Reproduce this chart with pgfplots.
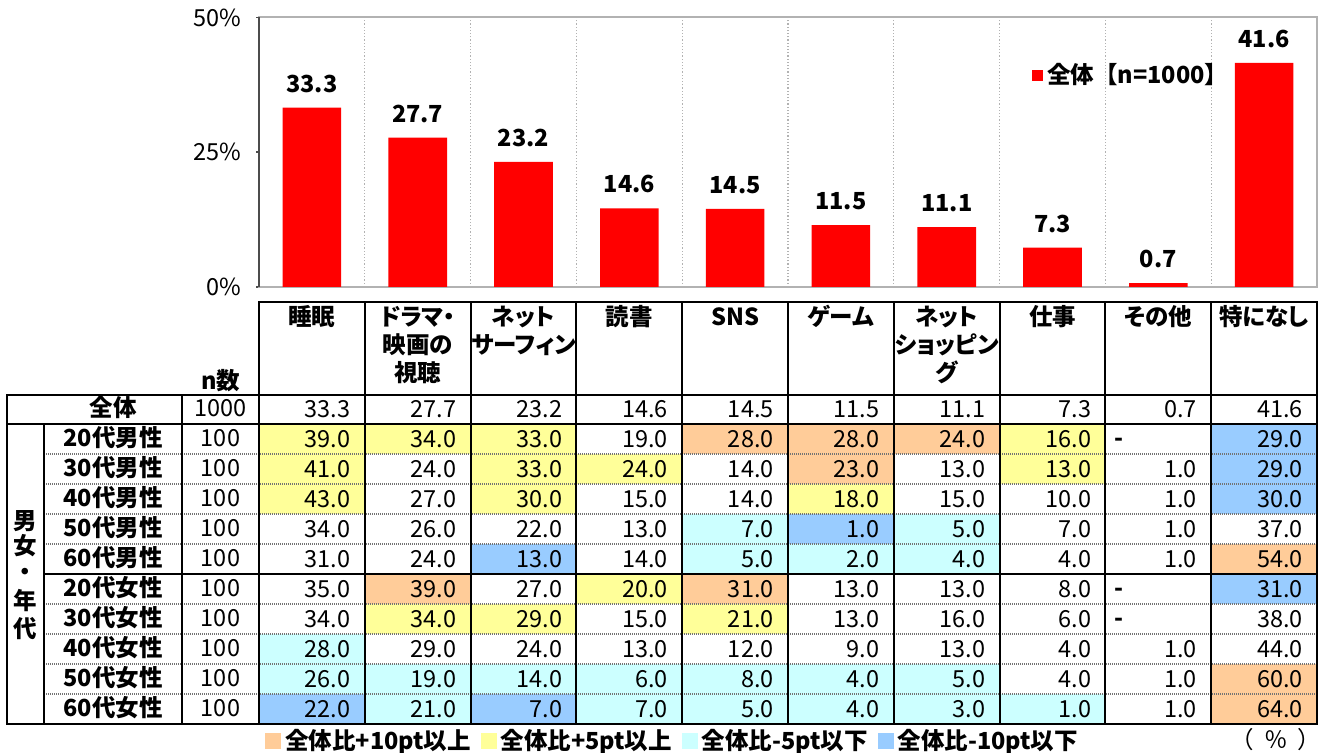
\documentclass[border=0pt]{standalone}
\usepackage{fontspec}
\setmainfont{Noto Sans CJK JP}
\usepackage{pgfplots}
\pgfplotsset{compat=1.18}
\definecolor{cO}{RGB}{255,204,153}
\definecolor{cY}{RGB}{255,255,153}
\definecolor{cC}{RGB}{204,255,255}
\definecolor{cB}{RGB}{153,204,255}
\definecolor{barred}{RGB}{255,0,0}
\pgfdeclareplotmark{cell}{\pgfpathrectangle{\pgfpoint{-26.45pt}{-7.5pt}}{\pgfpoint{52.9pt}{15pt}}\pgfusepathqfill}
\newcommand\fs{\fontsize{11.75}{14}\selectfont}
\tikzset{lab/.style={text height=0.88em, text depth=0.12em, inner sep=0pt, font=\fs\bfseries},
 labr/.style={text height=0.88em, text depth=0.12em, inner sep=0pt, font=\fs}}
\newcommand\hd[3]{\node[lab] at ({311.9+105.8*#1},{753-#2}) {\addfontfeatures{RawFeature=+palt}#3};}
\newcommand\rl[3]{\node[lab] at (113,{753-409-30*#1}) {#2}; \node[labr] at (220.5,{753-409-30*#1}) {#3};}
\begin{document}
\begin{tikzpicture}[x=0.5pt,y=0.5pt]
\path[use as bounding box] (0,0) rectangle (1327,753);
% column dividers in chart
\foreach \k in {1,...,9} \draw[black!30, densely dotted, line width=0.6pt] ({259+105.8*\k},466) -- ({259+105.8*\k},735.5);
\begin{axis}[
  at={(129.5pt,233pt)}, anchor=south west, scale only axis,
  width=529pt, height=134.75pt,
  xmin=-0.5, xmax=9.5, ymin=0, ymax=50,
  xtick=\empty, ytick={0,25,50}, yticklabels={0\%,25\%,50\%},
  ytick pos=left, tick align=outside, major tick length=1.5pt,
  tick style={black!70, line width=0.75pt},
  yticklabel style={font=\fs, xshift=-4pt},
  axis line style={black!30, line width=1pt},
  ybar, bar width=29.3pt,
  nodes near coords={\pgfmathprintnumber[fixed,fixed zerofill,precision=1,assume math mode=true]{\pgfplotspointmeta}},
  every node near coord/.append style={font=\fs\bfseries, yshift=4pt},
  legend style={at={(0.7306,0.7866)}, anchor=west, draw=none, fill=none, inner sep=0pt, font=\fs\bfseries},
  legend image code/.code={\fill[barred] (0pt,-2.75pt) rectangle (5.5pt,2.75pt);},
]
\addplot[fill=barred, draw=none] coordinates {(0,33.3) (1,27.7) (2,23.2) (3,14.6) (4,14.5) (5,11.5) (6,11.1) (7,7.3) (8,0.7) (9,41.6)};
\addlegendentry{全体【n=1000】}
\end{axis}
\draw[black!70, line width=1pt] (259,466) -- (259,735.5);
% table axis
\begin{axis}[
  at={(129.5pt,14.5pt)}, anchor=south west, scale only axis,
  width=529pt, height=165pt,
  xmin=-0.5, xmax=9.5, ymin=-10.5, ymax=0.5,
  hide axis, clip=false,
  legend columns=4,
  legend style={at={(0.0057,-0.0515)}, anchor=west, draw=none, fill=none, inner sep=0pt, font=\fs\bfseries, /tikz/every even column/.append style={column sep=3pt}},
  legend image code/.code={\fill (0pt,-3.75pt) rectangle (7.5pt,3.75pt);},
]
\addplot[only marks, mark=cell, color=cO] coordinates {(4,-1)(5,-1)(6,-1)(5,-2)(9,-5)(1,-6)(4,-6)(9,-9)(9,-10)};
\addlegendentry{全体比+10pt以上}
\addplot[only marks, mark=cell, color=cY] coordinates {(0,-1)(1,-1)(2,-1)(7,-1)(0,-2)(2,-2)(3,-2)(7,-2)(0,-3)(2,-3)(5,-3)(3,-6)(1,-7)(2,-7)(4,-7)};
\addlegendentry{全体比+5pt以上}
\addplot[only marks, mark=cell, color=cC] coordinates {(4,-4)(6,-4)(4,-5)(5,-5)(6,-5)(0,-8)(0,-9)(1,-9)(2,-9)(3,-9)(4,-9)(5,-9)(6,-9)(1,-10)(3,-10)(4,-10)(5,-10)(6,-10)(7,-10)};
\addlegendentry{全体比-5pt以下}
\addplot[only marks, mark=cell, color=cB] coordinates {(9,-1)(9,-2)(9,-3)(5,-4)(2,-5)(9,-6)(0,-10)(2,-10)};
\addlegendentry{全体比-10pt以下}
\pgfplotsset{valstyle/.style={forget plot, draw=none, mark=none, point meta=explicit symbolic, nodes near coords, every node near coord/.append style={anchor=east, xshift=22.8pt, font=\fs}}}
\addplot[valstyle] coordinates {(0,0)[33.3] (1,0)[27.7] (2,0)[23.2] (3,0)[14.6] (4,0)[14.5] (5,0)[11.5] (6,0)[11.1] (7,0)[7.3] (8,0)[0.7] (9,0)[41.6]};
\addplot[valstyle] coordinates {(0,-1)[39.0] (1,-1)[34.0] (2,-1)[33.0] (3,-1)[19.0] (4,-1)[28.0] (5,-1)[28.0] (6,-1)[24.0] (7,-1)[16.0] (9,-1)[29.0]};
\addplot[valstyle] coordinates {(0,-2)[41.0] (1,-2)[24.0] (2,-2)[33.0] (3,-2)[24.0] (4,-2)[14.0] (5,-2)[23.0] (6,-2)[13.0] (7,-2)[13.0] (8,-2)[1.0] (9,-2)[29.0]};
\addplot[valstyle] coordinates {(0,-3)[43.0] (1,-3)[27.0] (2,-3)[30.0] (3,-3)[15.0] (4,-3)[14.0] (5,-3)[18.0] (6,-3)[15.0] (7,-3)[10.0] (8,-3)[1.0] (9,-3)[30.0]};
\addplot[valstyle] coordinates {(0,-4)[34.0] (1,-4)[26.0] (2,-4)[22.0] (3,-4)[13.0] (4,-4)[7.0] (5,-4)[1.0] (6,-4)[5.0] (7,-4)[7.0] (8,-4)[1.0] (9,-4)[37.0]};
\addplot[valstyle] coordinates {(0,-5)[31.0] (1,-5)[24.0] (2,-5)[13.0] (3,-5)[14.0] (4,-5)[5.0] (5,-5)[2.0] (6,-5)[4.0] (7,-5)[4.0] (8,-5)[1.0] (9,-5)[54.0]};
\addplot[valstyle] coordinates {(0,-6)[35.0] (1,-6)[39.0] (2,-6)[27.0] (3,-6)[20.0] (4,-6)[31.0] (5,-6)[13.0] (6,-6)[13.0] (7,-6)[8.0] (9,-6)[31.0]};
\addplot[valstyle] coordinates {(0,-7)[34.0] (1,-7)[34.0] (2,-7)[29.0] (3,-7)[15.0] (4,-7)[21.0] (5,-7)[13.0] (6,-7)[16.0] (7,-7)[6.0] (9,-7)[38.0]};
\addplot[valstyle] coordinates {(0,-8)[28.0] (1,-8)[29.0] (2,-8)[24.0] (3,-8)[13.0] (4,-8)[12.0] (5,-8)[9.0] (6,-8)[13.0] (7,-8)[4.0] (8,-8)[1.0] (9,-8)[44.0]};
\addplot[valstyle] coordinates {(0,-9)[26.0] (1,-9)[19.0] (2,-9)[14.0] (3,-9)[6.0] (4,-9)[8.0] (5,-9)[4.0] (6,-9)[5.0] (7,-9)[4.0] (8,-9)[1.0] (9,-9)[60.0]};
\addplot[valstyle] coordinates {(0,-10)[22.0] (1,-10)[21.0] (2,-10)[7.0] (3,-10)[7.0] (4,-10)[5.0] (5,-10)[4.0] (6,-10)[3.0] (7,-10)[1.0] (8,-10)[1.0] (9,-10)[64.0]};
\addplot[forget plot, draw=none, mark=none, point meta=explicit symbolic, nodes near coords, every node near coord/.append style={anchor=west, xshift=-25.35pt, font=\fs\bfseries, text height=0.75em, text depth=0em}] coordinates {(8,-1)[-] (8,-6)[-] (8,-7)[-]};
\end{axis}
% grid lines
\foreach \p in {454,484,514,544,604,634,664,694} \draw[black!55, line width=0.75pt, dash pattern=on 0.5pt off 0.5pt] (44,{753-\p}) -- (1317,{753-\p});
\begin{scope}[line width=1pt, line cap=rect]
\draw (259,451) -- (1317,451);
\foreach \k in {0,...,10} \draw ({259+105.8*\k},451) -- ({259+105.8*\k},29);
\draw (7,358) -- (1317,358);
\draw (7,329) -- (1317,329);
\draw (44,179) -- (1317,179);
\draw (7,29) -- (1317,29);
\draw (7,358) -- (7,29);
\draw (44,329) -- (44,29);
\draw (182,358) -- (182,29);
\end{scope}
% headers
\hd{0}{318}{睡眠}
\hd{1}{318}{ドラマ・}\hd{1}{346}{映画の}\hd{1}{374}{視聴}
\hd{2}{318}{ネット}\hd{2}{346}{サーフィン}
\hd{3}{318}{読書}
\hd{4}{318}{SNS}
\hd{5}{318}{ゲーム}
\hd{6}{318}{ネット}\hd{6}{346}{ショッピン}\hd{6}{374}{グ}
\hd{7}{318}{仕事}
\hd{8}{318}{その他}
\hd{9}{318}{特になし}
\node[lab] at (220.5,{753-382}) {n数};
% row labels
\rl{0}{全体}{1000}
\rl{1}{20代男性}{100}
\rl{2}{30代男性}{100}
\rl{3}{40代男性}{100}
\rl{4}{50代男性}{100}
\rl{5}{60代男性}{100}
\rl{6}{20代女性}{100}
\rl{7}{30代女性}{100}
\rl{8}{40代女性}{100}
\rl{9}{50代女性}{100}
\rl{10}{60代女性}{100}
\node[lab] at (25.5,{753-522}) {男};
\node[lab] at (25.5,{753-547}) {女};
\node[lab] at (25.5,{753-573}) {・};
\node[lab] at (25.5,{753-602}) {年};
\node[lab] at (25.5,{753-630}) {代};
\node[labr] at (1276,{753-741}) {（\hspace{5pt}％\hspace{5pt}）};
\end{tikzpicture}
\end{document}
